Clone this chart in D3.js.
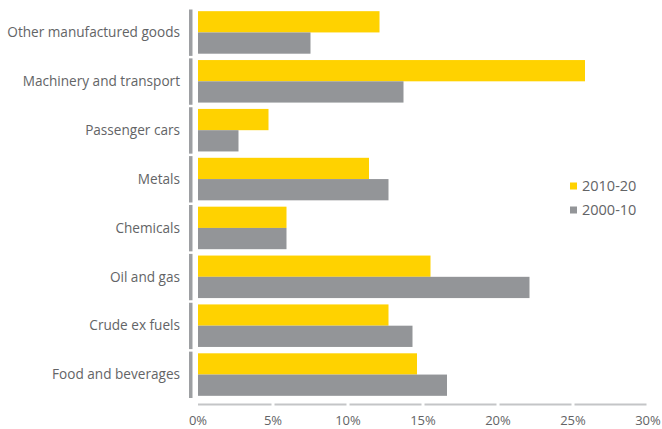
<!DOCTYPE html>
<html>
<head>
<meta charset="utf-8">
<script src="https://cdn.jsdelivr.net/npm/d3@7"></script>
<style>
  html, body { margin: 0; padding: 0; background: #fff; }
  svg { display: block; font-family: "Open Sans", sans-serif; }
</style>
</head>
<body>
<svg id="chart" width="662" height="429"></svg>
<script>
// Export growth by sector, two decades compared
const categories = [
  "Other manufactured goods",
  "Machinery and transport",
  "Passenger cars",
  "Metals",
  "Chemicals",
  "Oil and gas",
  "Crude ex fuels",
  "Food and beverages"
];
const seriesNames = ["2010-20", "2000-10"];
const values2010_20 = [12.1, 25.8, 4.7, 11.4, 5.9, 15.5, 12.7, 14.6];
const values2000_10 = [7.5, 13.7, 2.7, 12.7, 5.9, 22.1, 14.3, 16.6];
const xTicks = [0, 5, 10, 15, 20, 25, 30];
const colors = ["#FFD200", "#939598"];

const svg = d3.select("#chart");
const x = d3.scaleLinear().domain([0, 30]).range([198, 648]);
const y = d3.scaleBand().domain(categories).range([8, 399]);
const step = y.step();
const barH = step * 0.435;
const barOff = step * 0.065;

const series = [values2010_20, values2000_10];

// Bars
series.forEach((vals, si) => {
  svg.append("g").selectAll("rect")
    .data(categories.map((c, i) => ({ c, v: vals[i] })))
    .join("rect")
    .attr("x", x(0))
    .attr("y", d => y(d.c) + barOff + si * barH)
    .attr("width", d => x(d.v) - x(0))
    .attr("height", barH)
    .attr("fill", colors[si]);
});

// Left axis: one segment per category band
svg.append("g").selectAll("rect")
  .data(categories)
  .join("rect")
  .attr("x", 189)
  .attr("y", d => y(d) + 1.5)
  .attr("width", 3.5)
  .attr("height", step - 2.5)
  .attr("fill", "#9d9fa2");

svg.append("g").selectAll("text")
  .data(categories)
  .join("text")
  .attr("x", 180)
  .attr("y", d => y(d) + step / 2)
  .attr("dy", "0.35em")
  .attr("text-anchor", "end")
  .attr("font-size", 13.6)
  .attr("fill", "#636466")
  .text(d => d);

// Bottom axis: segments between ticks
const axisY = 404.5;
svg.append("g").selectAll("line")
  .data(d3.pairs(xTicks))
  .join("line")
  .attr("x1", d => x(d[0]) + (d[0] === 0 ? 0 : 1.5))
  .attr("x2", d => x(d[1]) - 1.5)
  .attr("y1", axisY)
  .attr("y2", axisY)
  .attr("stroke", "#c4c5c7")
  .attr("stroke-width", 2);

svg.append("g").selectAll("text")
  .data(xTicks)
  .join("text")
  .attr("x", d => x(d))
  .attr("y", 420)
  .attr("dy", "0.35em")
  .attr("text-anchor", "middle")
  .attr("font-size", 13)
  .attr("fill", "#636466")
  .text(d => d + "%");

// Legend
const legend = svg.append("g").selectAll("g")
  .data(seriesNames)
  .join("g")
  .attr("transform", (d, i) => `translate(570, ${186 + i * 24})`);
legend.append("rect")
  .attr("x", 0).attr("y", -3.5)
  .attr("width", 7).attr("height", 7)
  .attr("fill", (d, i) => colors[i]);
legend.append("text")
  .attr("x", 12).attr("y", 0)
  .attr("dy", "0.35em")
  .attr("font-size", 14.5)
  .attr("fill", "#636466")
  .text(d => d);
</script>
</body>
</html>
